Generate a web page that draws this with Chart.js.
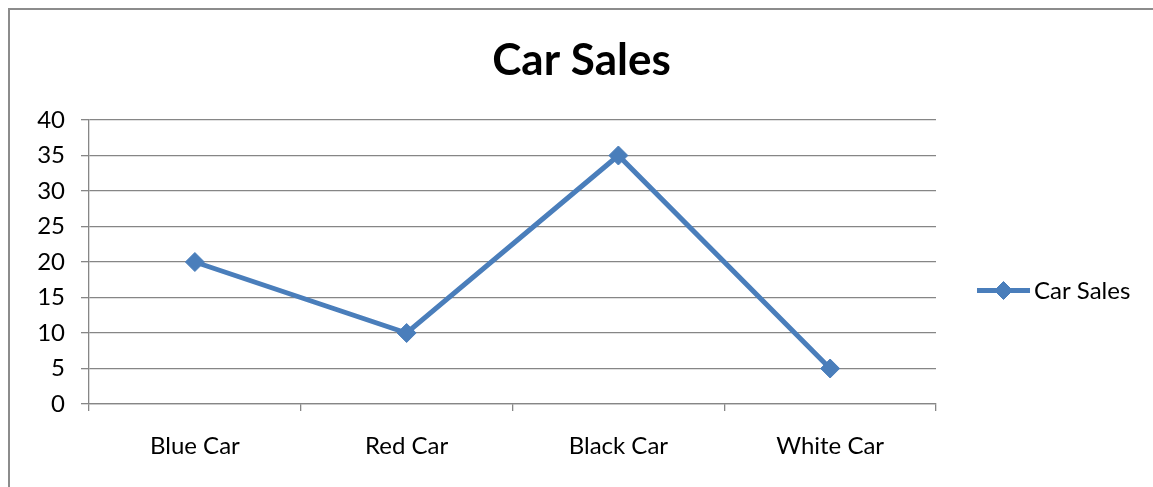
<!DOCTYPE html>
<html>
<head>
<meta charset="utf-8">
<script src="https://cdn.jsdelivr.net/npm/chart.js@4"></script>
<style>
  html, body { margin: 0; padding: 0; background: #fff; }
  #wrap { position: relative; width: 1153px; height: 487px; overflow: hidden; }
  #frame { position: absolute; left: 8px; top: 8px; width: 1160px; height: 500px;
           border-left: 2px solid #8c8c8c; border-top: 2px solid #8c8c8c; box-sizing: border-box; }
  #c { position: absolute; left: 0; top: 0; }
</style>
</head>
<body>
<div id="wrap">
  <div id="frame"></div>
  <canvas id="c" width="1153" height="487"></canvas>
</div>
<script>
const categories = ["Blue Car", "Red Car", "Black Car", "White Car"];
const seriesName = "Car Sales";
const carSales = [20, 10, 35, 5];
const yTicks = [0, 5, 10, 15, 20, 25, 30, 35, 40];

const FONT = "Lato, 'Open Sans', sans-serif";
const BLUE = "#4A7EBB";
const GRID = "#868686";

const legendPlugin = {
  id: 'sideLegend',
  afterDraw(chart) {
    const ctx = chart.ctx;
    const ds = chart.data.datasets[0];
    const y = 290.5;
    ctx.save();
    ctx.strokeStyle = ds.borderColor;
    ctx.lineWidth = ds.borderWidth;
    ctx.beginPath();
    ctx.moveTo(977, y);
    ctx.lineTo(1030, y);
    ctx.stroke();
    ctx.fillStyle = ds.backgroundColor;
    ctx.strokeStyle = ds.borderColor;
    ctx.lineWidth = 1;
    Chart.helpers.drawPoint(ctx, { pointStyle: 'rectRot', radius: 9, borderWidth: 1 }, 1003.5, y);
    ctx.fillStyle = "#000";
    ctx.font = "24px " + FONT;
    ctx.textBaseline = "middle";
    ctx.textAlign = "left";
    ctx.fillText(ds.label, 1034, y + 1);
    ctx.restore();
  }
};

new Chart(document.getElementById('c'), {
  type: 'line',
  data: {
    labels: categories,
    datasets: [{
      label: seriesName,
      data: carSales,
      borderColor: BLUE,
      backgroundColor: BLUE,
      borderWidth: 5,
      pointStyle: 'rectRot',
      pointRadius: 9.5,
      pointHoverRadius: 9.5,
      pointBorderWidth: 1,
      tension: 0,
      fill: false
    }]
  },
  options: {
    responsive: false,
    animation: false,
    devicePixelRatio: 1,
    layout: { padding: { left: 10, right: 0, top: 0, bottom: 0 } },
    plugins: {
      legend: { display: false },
      tooltip: { enabled: false },
      title: {
        display: true,
        text: seriesName,
        color: "#000",
        font: { family: FONT, size: 44, weight: 'bold', lineHeight: 1.2 },
        padding: { top: 34, bottom: 33.2 }
      }
    },
    scales: {
      x: {
        offset: true,
        grid: { display: true, offset: true, drawOnChartArea: false, drawTicks: true, tickLength: 7, color: GRID, lineWidth: 1.3 },
        border: { display: true, color: GRID, width: 1.3 },
        ticks: { color: "#000", font: { family: FONT, size: 24 }, padding: 21, maxRotation: 0 },
        afterFit(s) { s.height = 83; }
      },
      y: {
        min: 0, max: 40,
        afterBuildTicks(s) { s.ticks = yTicks.map(v => ({ value: v })); },
        grid: { color: GRID, lineWidth: 1.3, drawTicks: true, tickLength: 8 },
        border: { display: true, color: GRID, width: 1.3 },
        ticks: { color: "#000", font: { family: FONT, size: 24 }, padding: 16 },
        afterFit(s) { s.width = 79; }
      },
      legendSpace: {
        type: 'linear',
        position: 'right',
        display: true,
        grid: { display: false, drawOnChartArea: false },
        border: { display: false },
        ticks: { display: false },
        afterFit(s) { s.width = 217; }
      }
    }
  },
  plugins: [legendPlugin]
});
</script>
</body>
</html>
